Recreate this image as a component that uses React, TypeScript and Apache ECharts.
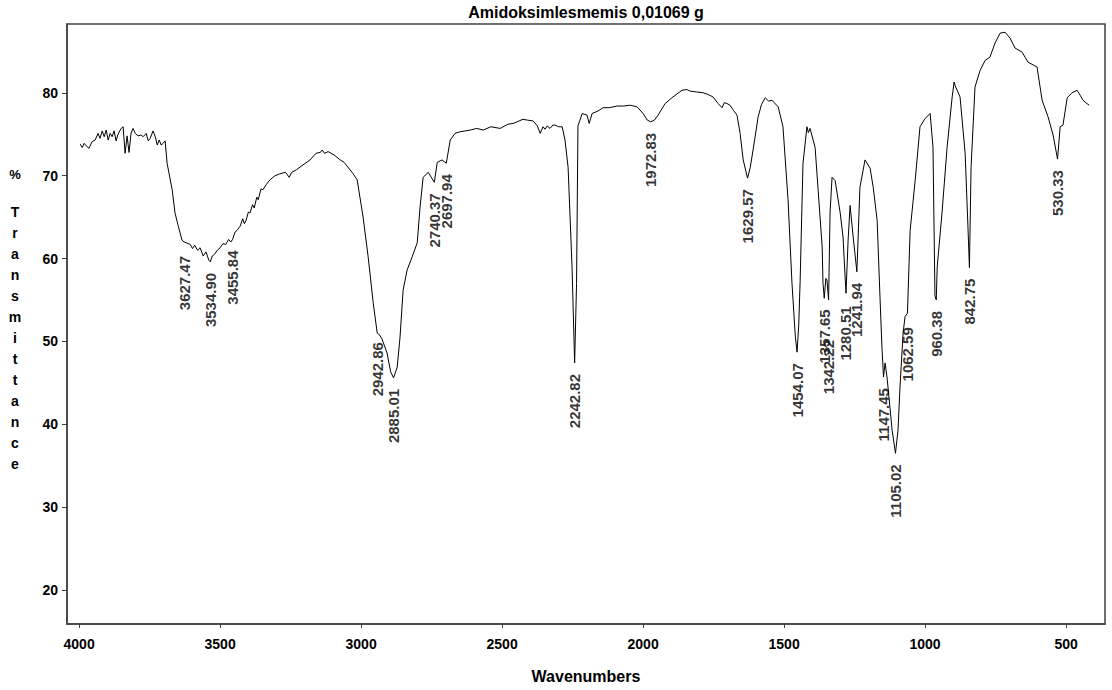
import React, { useEffect, useRef } from "react";
import * as echarts from "echarts";

// ---- data ----
const wavenumbers = [
  3996, 3989, 3982, 3975, 3965, 3954, 3943, 3933, 3926, 3918, 3911, 3904, 3897, 3890, 3883, 3876, 3869, 3862, 3851, 3844,
  3837, 3830, 3823, 3816, 3809, 3801, 3791, 3780, 3773, 3762, 3755, 3748, 3738, 3730, 3723, 3716, 3709, 3702, 3695, 3688,
  3670, 3660, 3649, 3635, 3627.47, 3606, 3598, 3590, 3580, 3571, 3560, 3550, 3540, 3534.9, 3528, 3520, 3510, 3500, 3490, 3480,
  3470, 3462, 3455.84, 3447, 3440, 3429, 3420, 3414, 3408, 3400, 3394, 3385, 3379, 3370, 3365, 3355, 3348, 3337, 3323, 3305,
  3290, 3280, 3268, 3255, 3246, 3230, 3206, 3181, 3160, 3145, 3138, 3130, 3117, 3096, 3074, 3060, 3053, 3030, 3014, 2993,
  2975, 2957, 2942.86, 2935, 2926, 2908, 2895, 2885.01, 2872, 2862, 2851, 2837, 2819, 2801, 2791, 2780, 2762, 2740.37, 2730, 2713,
  2697.94, 2684, 2667, 2649, 2630, 2613, 2590, 2567, 2540, 2507, 2480, 2461, 2440, 2426, 2410, 2390, 2375, 2365, 2355, 2348,
  2340, 2330, 2320, 2312, 2300, 2287, 2277, 2266, 2259, 2252, 2242.82, 2236, 2231, 2226, 2216, 2199, 2191, 2181, 2160, 2142,
  2120, 2092, 2070, 2046, 2021, 2000, 1985, 1972.83, 1960, 1947, 1922, 1894, 1862, 1845, 1833, 1810, 1787, 1770, 1752, 1734,
  1720, 1712, 1702, 1692, 1680, 1667, 1656, 1645, 1629.57, 1620, 1610, 1592, 1580, 1567, 1555, 1543, 1521, 1504, 1486, 1472,
  1460, 1454.07, 1448, 1443, 1433, 1419, 1414, 1408, 1390, 1380, 1365, 1362, 1357.65, 1352, 1348, 1342.22, 1337, 1330, 1319, 1301,
  1291, 1280.51, 1273, 1266, 1255, 1241.94, 1231, 1213, 1195, 1184, 1170, 1160, 1153, 1147.45, 1142, 1135, 1117, 1105.02, 1096, 1089,
  1078, 1071, 1062.59, 1053, 1035, 1018, 1000, 982, 972, 965, 960.38, 957, 940, 922, 904, 897, 894, 876, 858, 848,
  842.75, 837, 823, 805, 787, 770, 752, 734, 716, 699, 681, 656, 635, 603, 585, 564, 546, 530.33, 521, 511,
  496, 479, 461, 450, 440, 426, 418,
];

const transmittance = [
  73.8, 73.4, 73.9, 73.6, 73.3, 74.1, 74.3, 75.1, 74.5, 75.4, 74.7, 75.5, 74.3, 75.1, 74.7, 75.4, 74.2, 75.0, 75.7, 75.9,
  72.7, 74.8, 72.8, 75.1, 75.7, 75.1, 74.8, 74.9, 74.7, 75.1, 74.2, 74.5, 75.4, 74.7, 73.7, 74.3, 73.7, 73.9, 74.2, 71.5,
  68.3, 65.5, 64.0, 62.2, 62.0, 61.7, 61.2, 61.6, 61.0, 61.3, 60.3, 60.8, 59.8, 59.6, 60.3, 60.5, 61.0, 61.3, 61.8, 61.7,
  62.3, 62.0, 62.3, 63.2, 63.4, 63.9, 64.8, 64.2, 64.6, 65.6, 65.5, 66.5, 66.1, 67.4, 67.1, 68.4, 68.3, 68.9, 69.5, 70.0,
  70.2, 70.3, 70.4, 69.8, 70.4, 70.7, 71.3, 71.9, 72.7, 72.8, 73.1, 72.7, 72.9, 72.5, 71.9, 71.6, 71.3, 70.3, 69.5, 65.0,
  60.2, 54.6, 51.0, 50.8, 50.3, 48.6, 46.3, 45.6, 46.9, 50.5, 56.2, 58.6, 60.2, 61.9, 66.2, 69.8, 70.4, 69.2, 71.6, 71.9,
  71.5, 74.3, 75.1, 75.3, 75.4, 75.5, 75.7, 75.5, 75.9, 75.7, 76.2, 76.3, 76.6, 76.8, 76.7, 76.6, 76.0, 75.1, 75.9, 75.6,
  76.0, 75.7, 76.1, 76.1, 75.9, 75.9, 74.3, 71.0, 65.0, 59.0, 47.4, 57.0, 76.0, 76.5, 77.5, 77.3, 76.3, 77.5, 77.8, 78.2,
  78.2, 78.4, 78.4, 78.5, 78.3, 77.5, 76.7, 76.5, 76.7, 77.3, 78.7, 79.5, 80.3, 80.4, 80.2, 80.1, 80.0, 79.8, 79.5, 78.7,
  78.2, 78.8, 78.7, 78.5, 77.9, 77.3, 75.1, 71.9, 69.7, 71.0, 73.1, 77.1, 78.6, 79.4, 79.0, 79.1, 78.3, 75.9, 67.1, 57.0,
  50.5, 48.7, 52.0, 57.4, 71.5, 75.9, 75.2, 75.7, 73.4, 68.6, 61.4, 57.0, 55.2, 57.6, 57.4, 55.0, 65.5, 69.8, 69.4, 65.5,
  62.6, 55.8, 62.2, 66.4, 62.6, 58.4, 68.6, 71.9, 70.9, 68.6, 64.6, 55.4, 49.3, 45.7, 47.4, 45.7, 39.3, 36.5, 39.3, 44.5,
  51.0, 53.0, 53.4, 63.4, 69.5, 75.9, 76.9, 77.5, 73.4, 55.5, 55.0, 59.0, 65.5, 73.4, 79.5, 81.3, 80.9, 79.5, 72.7, 63.8,
  58.9, 71.0, 80.7, 82.7, 83.9, 84.3, 86.0, 87.2, 87.3, 86.6, 85.4, 84.9, 83.7, 83.1, 79.1, 77.1, 74.9, 72.0, 75.9, 76.1,
  79.4, 80.0, 80.3, 79.7, 79.1, 78.7, 78.5,
];

const peakWavenumbers = [
  3627.47, 3534.9, 3455.84, 2942.86, 2885.01, 2740.37, 2697.94, 2242.82, 1972.83, 1629.57, 1454.07,
  1357.65, 1342.22, 1280.51, 1241.94, 1147.45, 1105.02, 1062.59, 960.38, 842.75, 530.33,
];
const peakTransmittance = [
  62.0, 59.6, 62.3, 51.0, 45.6, 69.2, 71.5, 47.4, 76.5, 69.7, 48.7,
  55.2, 55.0, 55.8, 58.4, 45.7, 36.5, 53.4, 55.0, 58.9, 72.0,
];
const peakLabels = [
  "3627.47", "3534.90", "3455.84", "2942.86", "2885.01", "2740.37", "2697.94", "2242.82", "1972.83", "1629.57", "1454.07",
  "1357.65", "1342.22", "1280.51", "1241.94", "1147.45", "1105.02", "1062.59", "960.38", "842.75", "530.33",
];

const xTicks = [4000, 3500, 3000, 2500, 2000, 1500, 1000, 500];
const yTicks = [20, 30, 40, 50, 60, 70, 80];

const chartTitle = "Amidoksimlesmemis 0,01069 g";
const xAxisName = "Wavenumbers";
const yAxisSymbol = "%";
const yAxisWord = "Transmittance";

// ---- styling ----
const FONT = "'Liberation Sans', Arial, sans-serif";
const labelGaps: Record<string, number> = {
  "3627.47": 14,
  "2942.86": 9,
  "1342.22": 40,
  "1280.51": 13,
  "1062.59": 14,
};

export default function App() {
  const ref = useRef<HTMLDivElement>(null);

  useEffect(() => {
    if (!ref.current) return;
    const chart = echarts.init(ref.current, undefined, { renderer: "svg" });
    const axisColor = "#404040";

    const option: any = {
      animation: false,
      backgroundColor: "#ffffff",
      grid: {
        left: 67,
        right: 7,
        top: 24,
        bottom: 66,
        show: true,
        borderColor: axisColor,
        borderWidth: 1.5,
        backgroundColor: "transparent",
      },
      xAxis: {
        type: "value",
        inverse: true,
        min: 362,
        max: 4043,
        splitLine: { show: false },
        axisLine: { show: true, onZero: false, lineStyle: { color: axisColor, width: 1.5 } },
        axisTick: { show: true, length: 4, customValues: xTicks, lineStyle: { color: axisColor, width: 1 } },
        axisLabel: {
          customValues: xTicks,
          margin: 13,
          color: "#000",
          fontSize: 14,
          fontWeight: "bold",
          fontFamily: FONT,
          formatter: (v: number) => String(v),
        },
        name: xAxisName,
        nameLocation: "middle",
        nameGap: 44,
        nameTextStyle: { color: "#000", fontSize: 16, fontWeight: "bold", fontFamily: FONT },
      },
      yAxis: {
        type: "value",
        min: 15.9,
        max: 88.3,
        splitLine: { show: false },
        axisLine: { show: true, onZero: false, lineStyle: { color: axisColor, width: 1.5 } },
        axisTick: { show: true, length: 5, customValues: yTicks, lineStyle: { color: axisColor, width: 1 } },
        axisLabel: {
          customValues: yTicks,
          margin: 9,
          color: "#000",
          fontSize: 14,
          fontWeight: "bold",
          fontFamily: FONT,
          formatter: (v: number) => String(v),
        },
      },
      series: [
        {
          type: "line",
          data: wavenumbers.map((w, i) => [w, transmittance[i]]),
          symbol: "none",
          showSymbol: false,
          silent: true,
          lineStyle: { color: "#000", width: 1 },
          z: 2,
        },
        {
          type: "scatter",
          symbolSize: 0,
          silent: true,
          z: 3,
          data: peakWavenumbers.map((w, i) => ({
            value: [w, peakTransmittance[i]],
            label: { distance: labelGaps[peakLabels[i]] ?? 11 },
          })),
          label: {
            show: true,
            position: "bottom",
            rotate: 90,
            align: "right",
            verticalAlign: "middle",
            distance: 11,
            color: "#000",
            fontSize: 15,
            fontWeight: "bold",
            fontFamily: FONT,
            formatter: (p: any) => peakLabels[p.dataIndex],
          },
        },
      ],
      graphic: [
        {
          type: "text",
          x: 586,
          y: 12,
          style: {
            text: chartTitle,
            fill: "#000",
            font: `bold 16px ${FONT}`,
            textAlign: "center",
            textVerticalAlign: "middle",
          },
        },
        {
          type: "text",
          x: 15,
          y: 174,
          style: {
            text: yAxisSymbol,
            fill: "#000",
            font: `bold 13px ${FONT}`,
            textAlign: "center",
            textVerticalAlign: "middle",
          },
        },
        {
          type: "text",
          x: 15,
          y: 201.5,
          style: {
            text: yAxisWord.split("").join("\n"),
            fill: "#000",
            font: `bold 14px ${FONT}`,
            lineHeight: 21,
            textAlign: "center",
            textVerticalAlign: "top",
          },
        },
      ],
    };

    chart.setOption(option);
    return () => {
      chart.dispose();
    };
  }, []);

  return (
    <div
      ref={ref}
      style={{ position: "absolute", left: 0, top: 0, width: 1112, height: 690, background: "#fff" }}
    />
  );
}
